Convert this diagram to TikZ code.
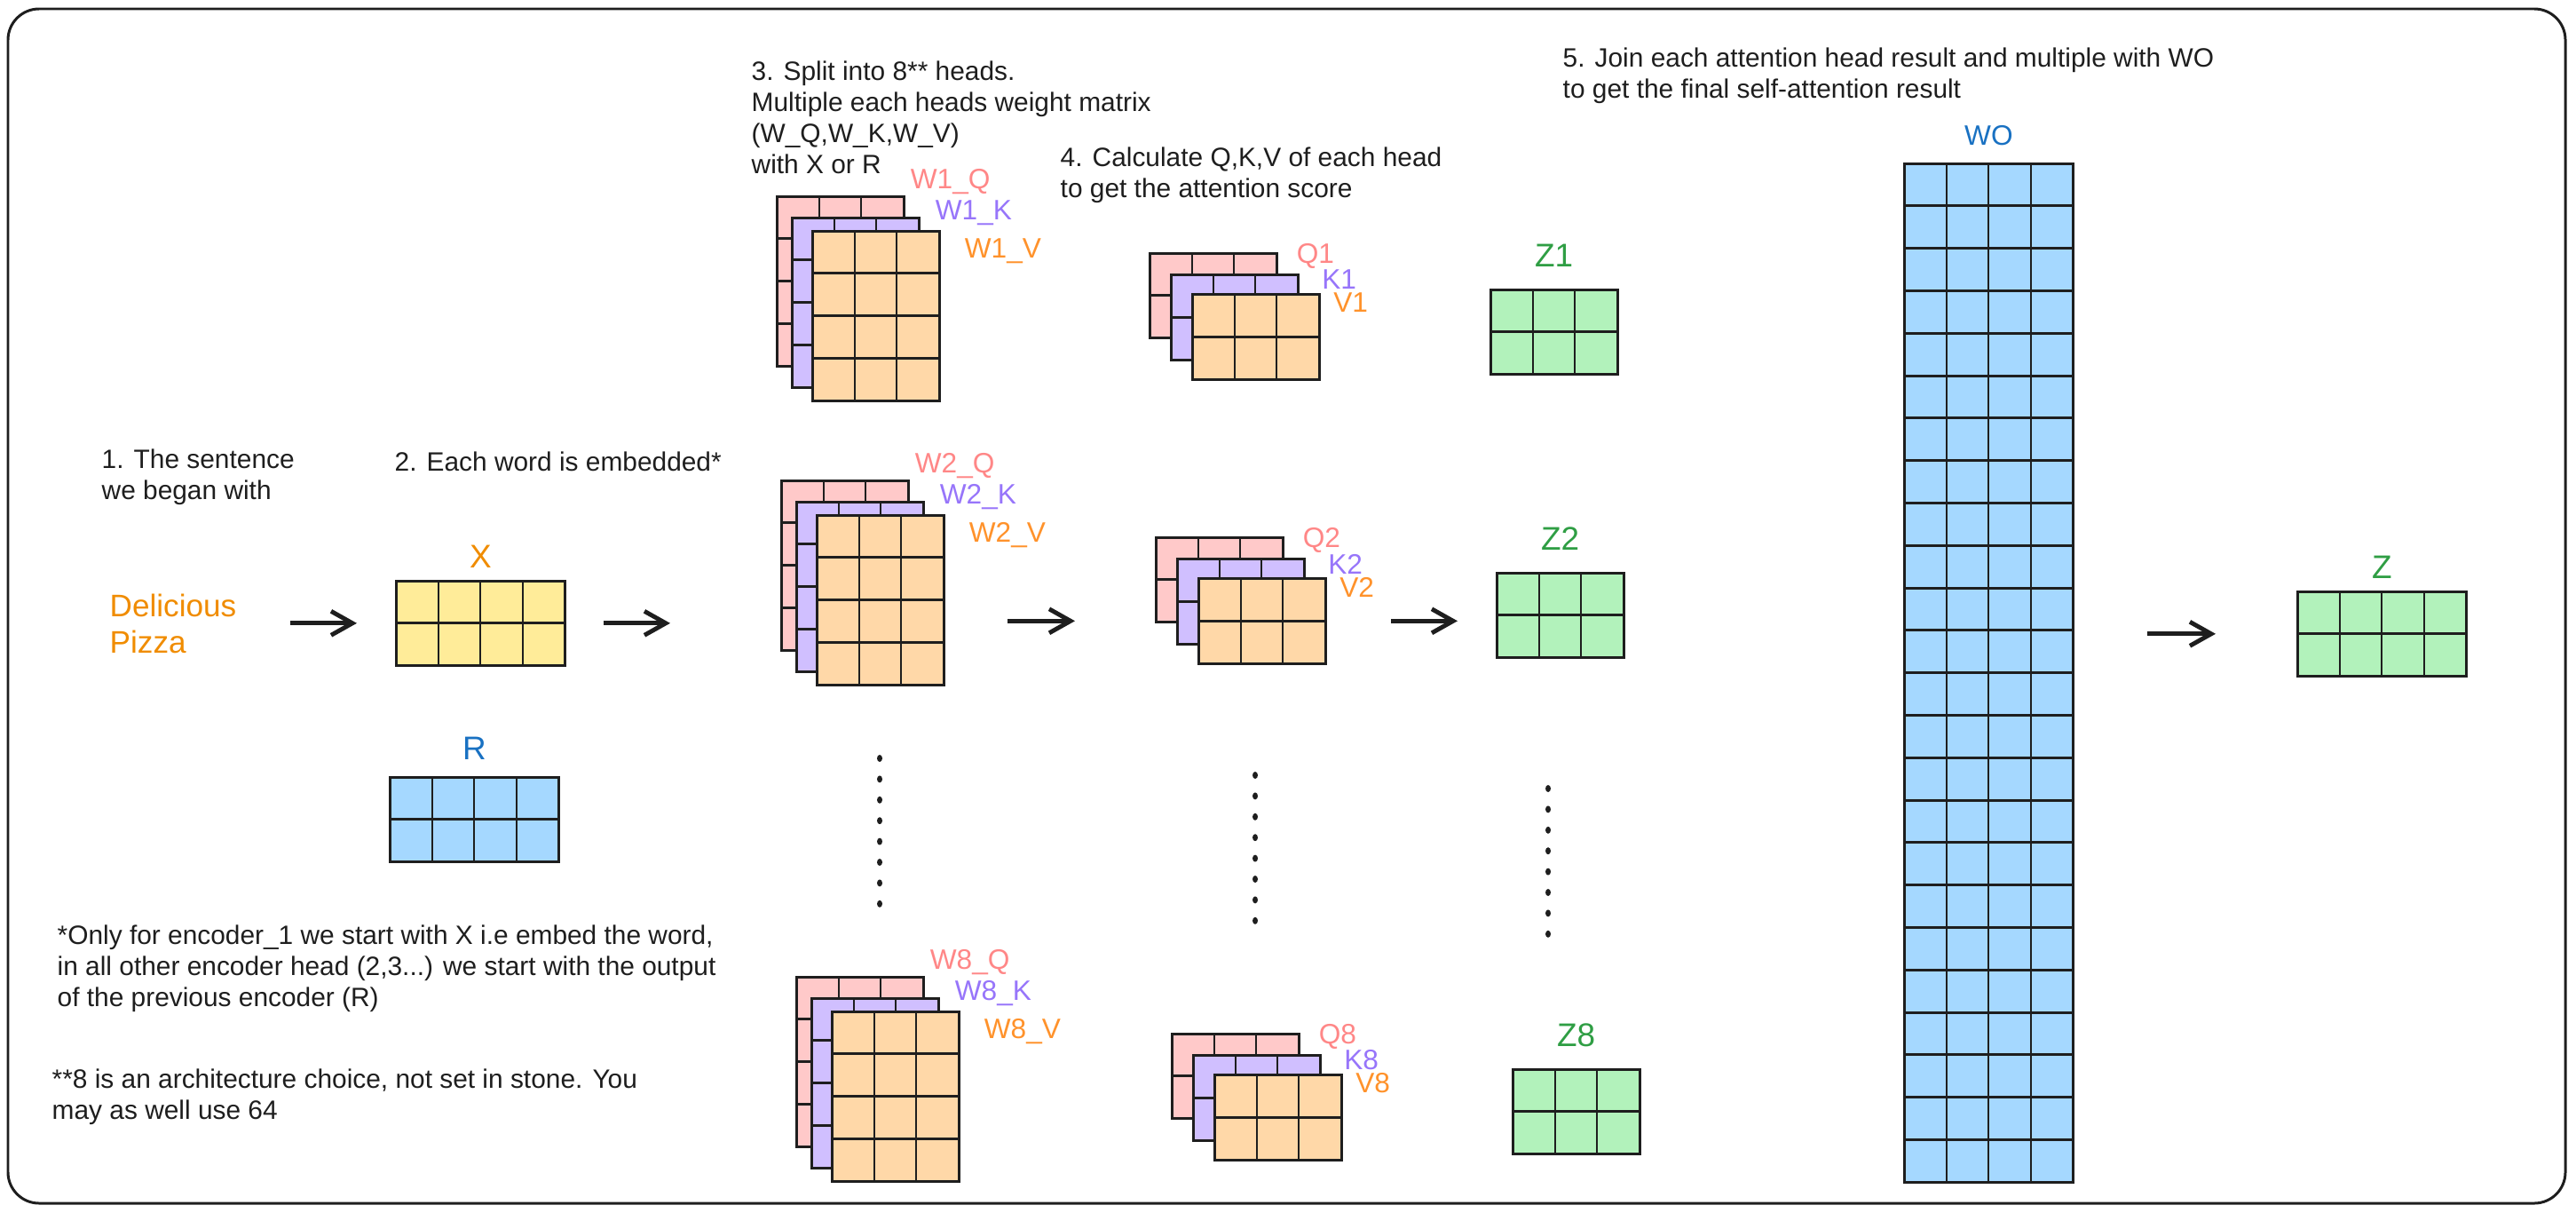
\documentclass[tikz,border=0pt]{standalone}
\usepackage{fontspec}
\setmainfont{Liberation Sans}
\usetikzlibrary{arrows.meta,positioning,calc}
\definecolor{ink}{HTML}{1E1E1E}
\definecolor{qfill}{HTML}{FFC9C9}
\definecolor{kfill}{HTML}{D0BFFF}
\definecolor{vfill}{HTML}{FFD8A8}
\definecolor{xfill}{HTML}{FFEC99}
\definecolor{bfill}{HTML}{A5D8FF}
\definecolor{zfill}{HTML}{B2F2BB}
\definecolor{qtxt}{HTML}{FF8787}
\definecolor{ktxt}{HTML}{9775FA}
\definecolor{vtxt}{HTML}{FF922B}
\definecolor{wordtxt}{HTML}{F08C00}
\definecolor{btxt}{HTML}{1971C2}
\definecolor{ztxt}{HTML}{2F9E44}

\newcommand{\cellw}{0.477cm}
\newcommand{\cellh}{0.478cm}

% one matrix: name, fill, north-west corner, columns, rows
\newcommand{\cellmat}[5]{%
  \node[matbox, fill=#2, minimum width=#4*\cellw, minimum height=#5*\cellh] (#1) at (#3) {};
  \foreach \ci in {2,...,#4}
    \draw[colline] ([xshift={(\ci-1)*\cellw}]#1.north west) -- ([xshift={(\ci-1)*\cellw}]#1.south west);
  \foreach \ri in {2,...,#5}
    \draw[rowline] ([yshift={-(\ri-1)*\cellh}]#1.north west) -- ([yshift={-(\ri-1)*\cellh}]#1.north east);
}

% weight matrices of one head: head, north-west corner
\newcommand{\wstack}[2]{%
  \cellmat{wq#1}{qfill}{#2}{3}{4}
  \cellmat{wk#1}{kfill}{$(#2)+(0.17,-0.24)$}{3}{4}
  \cellmat{wv#1}{vfill}{$(#2)+(0.40,-0.39)$}{3}{4}
  \node[wlbl, text=qtxt] (wq#1lbl) at ([shift={(0.07,0.16)}]wq#1.north east) {W#1\_Q};
  \node[wlbl, text=ktxt] (wk#1lbl) at ([shift={(0.18,0.05)}]wk#1.north east) {W#1\_K};
  \node[wlbl, text=vtxt] (wv#1lbl) at ([shift={(0.28,-0.23)}]wv#1.north east) {W#1\_V};
}

% Q,K,V of one head: head, north-west corner
\newcommand{\qstack}[2]{%
  \cellmat{q#1}{qfill}{#2}{3}{2}
  \cellmat{k#1}{kfill}{$(#2)+(0.24,-0.245)$}{3}{2}
  \cellmat{v#1}{vfill}{$(#2)+(0.48,-0.465)$}{3}{2}
  \node[wlbl, text=qtxt] (q#1lbl) at ([shift={(0.22,-0.035)}]q#1.north east) {Q#1};
  \node[wlbl, text=ktxt] (k#1lbl) at ([shift={(0.265,-0.055)}]k#1.north east) {K#1};
  \node[wlbl, text=vtxt] (v#1lbl) at ([shift={(0.155,-0.095)}]v#1.north east) {V#1};
}

\begin{document}
\begin{tikzpicture}[
  matbox/.style={draw=ink, line width=0.85pt, anchor=north west, inner sep=0pt, outer sep=0pt},
  colline/.style={draw=ink, line width=0.55pt},
  rowline/.style={draw=ink, line width=0.85pt},
  frame/.style={draw=ink, line width=0.85pt, rounded corners=0.35cm},
  notetext/.style={font=\fontsize{8.5}{10}\selectfont, text=ink, align=left, anchor=north west, inner sep=0pt},
  wordtext/.style={font=\fontsize{10}{11.7}\selectfont, text=wordtxt, align=left, anchor=north west, inner sep=0pt},
  wlbl/.style={font=\fontsize{9}{10}\selectfont, anchor=west, inner sep=0pt},
  mlbl/.style={font=\fontsize{10.5}{12}\selectfont, inner sep=0pt},
  flowarrow/.style={-{Straight Barb[length=0.24cm, width=0.27cm]}, line width=1.4pt, draw=ink},
  dotmark/.style={fill=ink},
]
\useasboundingbox (0,0) rectangle (29.02,-13.65);
\draw[frame] (0.09,-0.10) rectangle (28.90,-13.55);

% texts
\node[notetext] (step1) at (1.14,-5.05) {1. The sentence\\we began with};
\node[notetext] (step2) at (4.44,-5.08) {2. Each word is embedded*};
\node[notetext] (step3) at (8.46,-0.68) {3. Split into 8** heads.\\Multiple each heads weight matrix\\(W\_Q,W\_K,W\_V)\\with X or R};
\node[notetext] (step4) at (11.94,-1.65) {4. Calculate Q,K,V of each head\\to get the attention score};
\node[notetext] (step5) at (17.60,-0.53) {5. Join each attention head result and multiple with WO\\to get the final self-attention result};
\node[notetext] (foot1) at (0.64,-10.41) {*Only for encoder\_1 we start with X i.e embed the word,\\in all other encoder head (2,3...) we start with the output\\of the previous encoder (R)};
\node[notetext] (foot2) at (0.58,-12.03) {**8 is an architecture choice, not set in stone. You\\may as well use 64};
\node[wordtext] (word) at (1.23,-6.68) {Delicious\\Pizza};

% embeddings
\cellmat{xm}{xfill}{4.46,-6.54}{4}{2}
\node[mlbl, text=wordtxt, above=0.14cm of xm] (xlbl) {X};
\cellmat{rm}{bfill}{4.39,-8.75}{4}{2}
\node[mlbl, text=btxt, above=0.19cm of rm] (rlbl) {R};

% heads
\wstack{1}{8.75,-2.21}
\wstack{2}{8.80,-5.41}
\wstack{8}{8.97,-11.00}
\qstack{1}{12.95,-2.85}
\qstack{2}{13.02,-6.05}
\qstack{8}{13.20,-11.64}

\cellmat{z1}{zfill}{16.79,-3.26}{3}{2}
\node[mlbl, text=ztxt, above=0.245cm of z1] (z1lbl) {Z1};
\cellmat{z2}{zfill}{16.86,-6.45}{3}{2}
\node[mlbl, text=ztxt, above=0.245cm of z2] (z2lbl) {Z2};
\cellmat{z8}{zfill}{17.04,-12.04}{3}{2}
\node[mlbl, text=ztxt, above=0.245cm of z8] (z8lbl) {Z8};

% output projection
\cellmat{wo}{bfill}{21.45,-1.84}{4}{24}
\node[mlbl, font=\fontsize{9}{10}\selectfont, text=btxt, above=0.19cm of wo] (wolbl) {WO};
\cellmat{zm}{zfill}{25.88,-6.66}{4}{2}
\node[mlbl, text=ztxt, above=0.135cm of zm] (zlbl) {Z};

% arrows
\draw[flowarrow, shorten <=0.6cm, shorten >=0.44cm] (word.east |- xm.west) -- (xm.west);
\draw[flowarrow, shorten <=0.43cm, shorten >=1.25cm] (xm.east) -- (xm.east -| wq2.west);
\draw[flowarrow, shorten <=0.72cm, shorten >=0.91cm] (wv2.east |- v2.west) -- (q2.west |- v2.west);
\draw[flowarrow, shorten <=0.74cm, shorten >=0.44cm] (v2.east) -- (v2.east -| z2.west);
\draw[flowarrow, shorten <=0.83cm, shorten >=0.92cm] (wo.east |- zm.west) -- (zm.west);

% dots between head 2 and head 8
\foreach \dx/\dy in {9.91/8.54, 14.14/8.73, 17.44/8.88}
  \foreach \i in {0,...,7}
    \fill[dotmark] (\dx,-\dy-0.234*\i) ellipse [x radius=0.03, y radius=0.04];

\end{tikzpicture}
\end{document}
